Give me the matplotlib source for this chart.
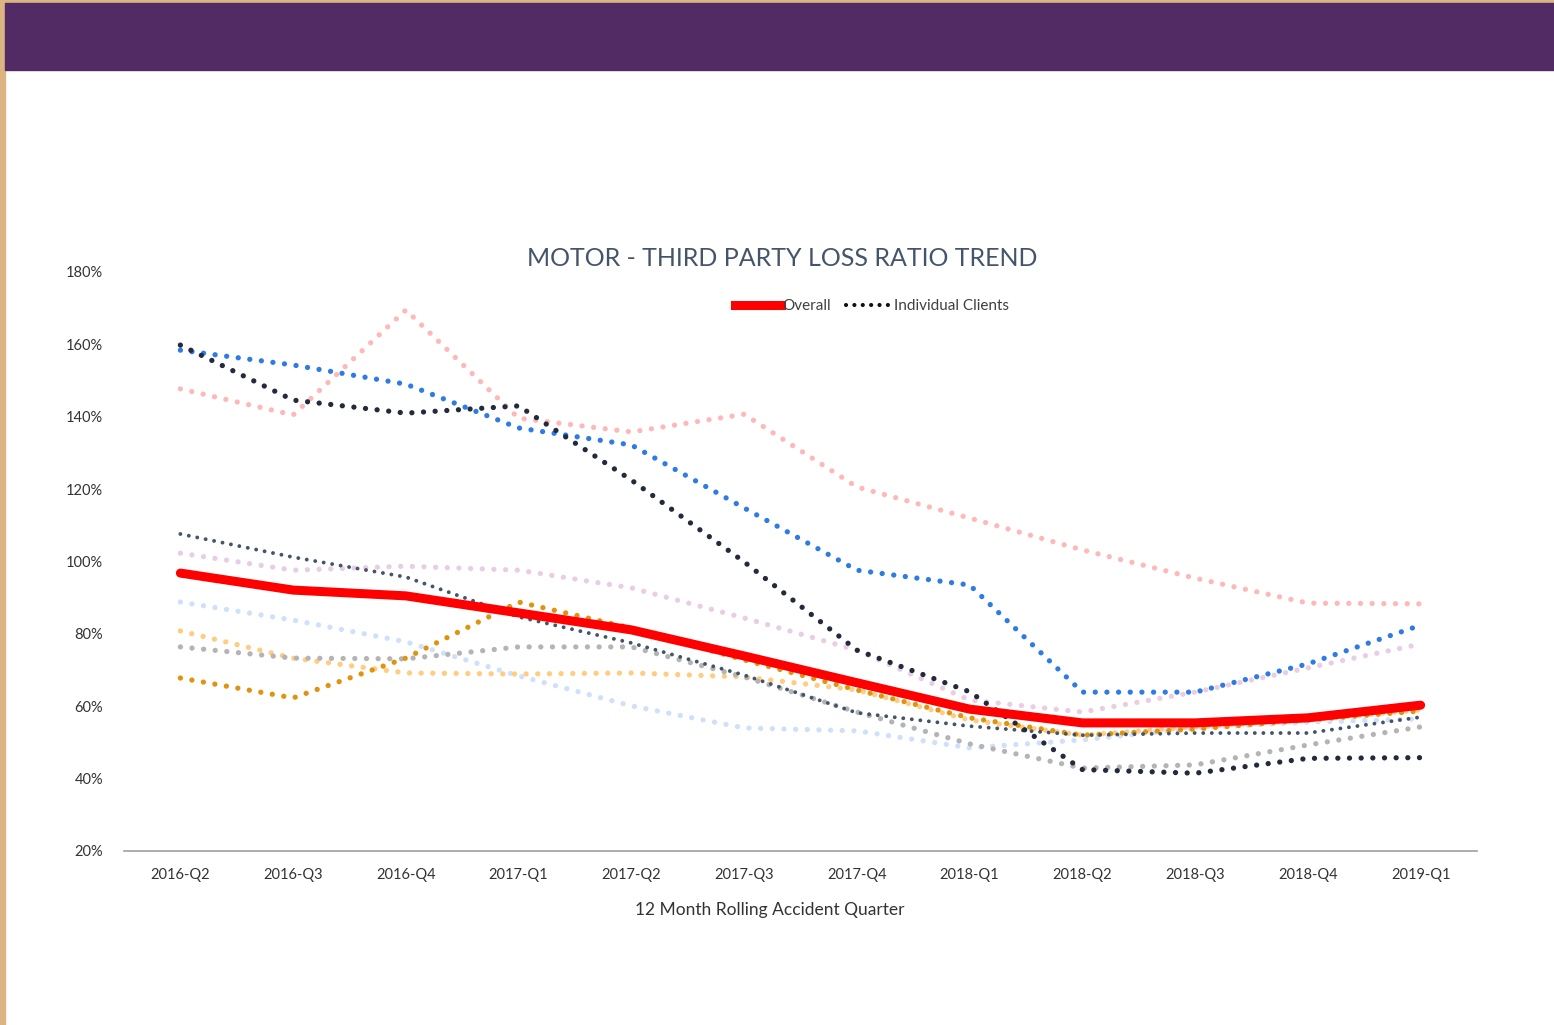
import matplotlib
matplotlib.use("Agg")
import matplotlib.pyplot as plt
from matplotlib.lines import Line2D
from matplotlib.patches import Rectangle

quarters = ["2016-Q2", "2016-Q3", "2016-Q4", "2017-Q1", "2017-Q2", "2017-Q3",
            "2017-Q4", "2018-Q1", "2018-Q2", "2018-Q3", "2018-Q4", "2019-Q1"]

overall = [96.8, 92.1, 90.5, 85.8, 81.1, 73.9, 66.5, 59.2, 55.4, 55.4, 56.8, 60.3]

# individual clients (dotted lines)
client_salmon = [147.7, 140.5, 169.5, 139.6, 135.8, 140.7, 120.6, 112.0, 103.2, 95.4, 88.5, 88.3]
client_blue = [158.4, 154.3, 149.0, 136.9, 132.2, 114.8, 97.6, 93.5, 63.9, 63.9, 71.7, 82.4]
client_navy = [159.8, 144.6, 141.0, 143.0, 122.5, 99.9, 75.5, 64.0, 42.5, 41.5, 45.6, 45.8]
client_slate = [107.6, 101.2, 95.7, 84.7, 77.5, 68.6, 58.2, 54.5, 52.0, 52.6, 52.6, 57.0]
client_lilac = [102.3, 97.6, 98.7, 97.6, 92.7, 84.4, 75.5, 61.7, 58.4, 63.9, 70.6, 77.2]
client_skyblue = [88.8, 83.8, 77.8, 68.4, 60.1, 54.0, 53.2, 48.5, 50.7, 54.0, 55.6, 56.5]
client_peach = [80.8, 73.3, 69.2, 68.9, 69.2, 68.1, 64.5, 56.2, 52.0, 54.3, 56.2, 59.0]
client_grey = [76.4, 73.3, 73.1, 76.4, 76.4, 68.1, 58.4, 49.6, 42.9, 43.8, 49.3, 54.3]
client_orange = [67.8, 62.3, 73.3, 88.8, 81.6, 72.8, 64.5, 56.8, 52.0, 53.7, 56.2, 58.7]

yticks = [20, 40, 60, 80, 100, 120, 140, 160, 180]

fig = plt.figure(figsize=(15.54, 10.25), dpi=100)

# page decoration: tan frame + purple banner
fig.patches.append(Rectangle((0, 0), 5 / 1554, 1, transform=fig.transFigure,
                             color="#dcb382", zorder=0))
fig.patches.append(Rectangle((0, 1 - 3 / 1025), 1, 3 / 1025, transform=fig.transFigure,
                             color="#dcb382", zorder=0))
fig.patches.append(Rectangle((5 / 1554, 1 - 70 / 1025), 1, 67 / 1025,
                             transform=fig.transFigure, color="#522a64", zorder=1))

ax = fig.add_axes([124 / 1554, 1 - 851 / 1025, (1477 - 124) / 1554, (851 - 272) / 1025])

x = list(range(len(quarters)))

clients = [
    (client_salmon, "#ffb8b8", 3.8),
    (client_lilac, "#e8cde4", 3.8),
    (client_skyblue, "#cfe0fa", 3.8),
    (client_peach, "#ffcc80", 3.8),
    (client_grey, "#b4b4b4", 3.8),
    (client_orange, "#e0930c", 3.8),
    (client_slate, "#44546a", 2.8),
    (client_blue, "#2e7be6", 3.8),
    (client_navy, "#222a3c", 3.8),
]
for vals, col, lw in clients:
    ax.plot(x, vals, color=col, lw=lw, linestyle=(0, (0.01, 2.2)),
            dash_capstyle="round", solid_joinstyle="round")

ax.plot(x, overall, color="#ff0000", lw=6.5, solid_capstyle="round",
        solid_joinstyle="round", zorder=5)

ax.set_xlim(-0.5, len(quarters) - 0.5)
ax.set_ylim(20, 180)
ax.set_xticks(x)
ax.set_xticklabels(quarters, fontsize=10.5, color="#333333", family="Lato")
ax.set_yticks(yticks)
ax.set_yticklabels([f"{v}%" for v in yticks], fontsize=10.5, color="#333333", family="Lato")
ax.tick_params(axis="both", length=0, pad=12)
ax.tick_params(axis="y", pad=15)
for s in ["top", "right", "left"]:
    ax.spines[s].set_visible(False)
ax.spines["bottom"].set_color("#a0a0a0")
ax.spines["bottom"].set_linewidth(1.2)

fig.text(770 / 1554, 1 - 910 / 1025, "12 Month Rolling Accident Quarter",
         ha="center", va="center", fontsize=12.5, color="#333333", family="Lato")

fig.text(782 / 1554, 1 - 259 / 1025, "MOTOR - THIRD PARTY LOSS RATIO TREND",
         ha="center", va="center", fontsize=18, color="#44546a", family="Lato")

handles = [
    Line2D([], [], color="#ff0000", lw=6.5),
    Line2D([], [], color="#111111", lw=3, linestyle=(0, (0.01, 2.0)), dash_capstyle="round"),
]
fig.legend(handles, ["Overall", "Individual Clients"], loc="center",
           bbox_to_anchor=(872 / 1554, 1 - 306 / 1025), ncol=2, frameon=False,
           handlelength=3, handletextpad=0.1, columnspacing=1.0,
           prop={"family": "Lato", "size": 11})
for t in fig.legends[0].get_texts():
    t.set_color("#404040")

fig.savefig("out.png", dpi=100, facecolor="white")
